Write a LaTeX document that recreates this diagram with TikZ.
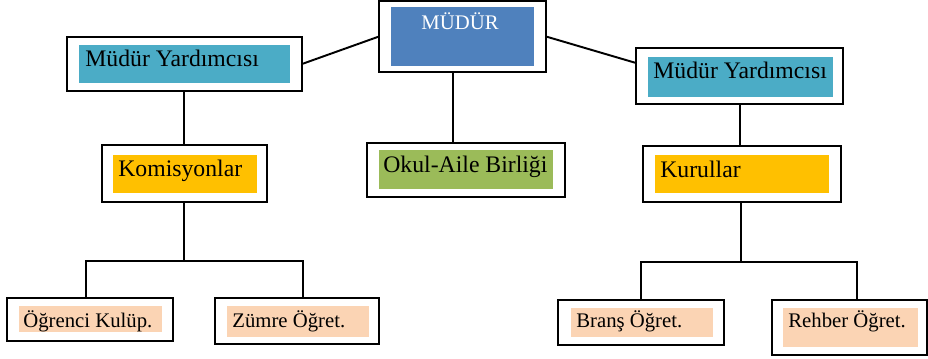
\documentclass[tikz,border=0pt]{standalone}
\usepackage{fontspec}
\setmainfont{Liberation Serif}
\usetikzlibrary{positioning}

\definecolor{mudurblue}{HTML}{4F81BD}
\definecolor{yardteal}{HTML}{4BACC6}
\definecolor{kurulgold}{HTML}{FFC000}
\definecolor{okulgreen}{HTML}{9BBB59}
\definecolor{ogretpeach}{HTML}{FBD4B4}

\begin{document}
\begin{tikzpicture}
[   x=0.02cm, y=-0.02cm,
    font = \fontsize{13.5}{16}\selectfont,
    box/.style={draw, line width=1.2pt, inner sep=0pt, outer sep=0pt},
    fillbox/.style={inner sep=0pt, outer sep=0pt},
    lbl/.style={anchor=base west, inner sep=0pt},
    smalllbl/.style={lbl, font=\fontsize{11.8}{14}\selectfont},
    link/.style={line width=1.1pt}
]
\useasboundingbox (0,0) rectangle (928,358);

% outer frames
\node[box, minimum width=3.34cm, minimum height=1.42cm] (mudur) at (462.5,36.5) {};
\node[box, minimum width=4.70cm, minimum height=1.08cm] (myL) at (184.5,64) {};
\node[box, minimum width=4.14cm, minimum height=1.12cm] (myR) at (739.5,76) {};
\node[box, minimum width=3.30cm, minimum height=1.14cm] (kom) at (184.5,173.5) {};
\node[box, minimum width=3.96cm, minimum height=1.08cm] (okul) at (466,170) {};
\node[box, minimum width=3.96cm, minimum height=1.12cm] (kur) at (742,174) {};
\node[box, minimum width=3.32cm, minimum height=0.86cm] (ogr) at (90,319.5) {};
\node[box, minimum width=3.28cm, minimum height=0.92cm] (zum) at (297,321) {};
\node[box, minimum width=3.32cm, minimum height=0.90cm] (bra) at (641,322.5) {};
\node[box, minimum width=3.10cm, minimum height=1.10cm] (reh) at (849.5,327.5) {};

% coloured fills
\node[fillbox, fill=mudurblue, minimum width=2.86cm, minimum height=1.18cm] (mudurf) at (462.5,36.5) {};
\node[fillbox, fill=yardteal, minimum width=4.22cm, minimum height=0.76cm] (myLf) at (184.5,64) {};
\node[fillbox, fill=yardteal, minimum width=3.70cm, minimum height=0.80cm] (myRf) at (740.5,77) {};
\node[fillbox, fill=kurulgold, minimum width=2.88cm, minimum height=0.76cm] (komf) at (185,174) {};
\node[fillbox, fill=okulgreen, minimum width=3.48cm, minimum height=0.78cm] (okulf) at (466,169.5) {};
\node[fillbox, fill=kurulgold, minimum width=3.48cm, minimum height=0.76cm] (kurf) at (742,174) {};
\node[fillbox, fill=ogretpeach, minimum width=2.86cm, minimum height=0.52cm] (ogrf) at (90.5,319) {};
\node[fillbox, fill=ogretpeach, minimum width=2.84cm, minimum height=0.62cm] (zumf) at (298,321.5) {};
\node[fillbox, fill=ogretpeach, minimum width=2.84cm, minimum height=0.58cm] (braf) at (642,322.5) {};
\node[fillbox, fill=ogretpeach, minimum width=2.70cm, minimum height=0.78cm] (rehf) at (850.5,327.5) {};

% labels
\node[smalllbl, anchor=base, text=white] (mudurt) at (460,30) {MÜDÜR};
\node[lbl] (myLt) at (85,67) {Müdür Yardımcısı};
\node[lbl] (myRt) at (653,78) {Müdür Yardımcısı};
\node[lbl] (komt) at (118,176) {Komisyonlar};
\node[lbl] (okult) at (383,172) {Okul-Aile Birliği};
\node[lbl] (kurt) at (660,177) {Kurullar};
\node[smalllbl] (ogrt) at (23,327) {Öğrenci Kulüp.};
\node[smalllbl] (zumt) at (232,327) {Zümre Öğret.};
\node[smalllbl] (brat) at (576,327) {Branş Öğret.};
\node[smalllbl] (reht) at (788,327) {Rehber Öğret.};

% connectors
\coordinate (komsplit) at (184,261);
\coordinate (kursplit) at (741,262);
\draw[link] (mudur.west) -- (myL.east);
\draw[link] (mudur.east) -- ([yshift=0.26cm]myR.west);
\draw[link] ([xshift=-0.19cm]mudur.south) -- ([xshift=-0.19cm]mudur.south |- okul.north);
\draw[link] ([xshift=-0.01cm]myL.south) -- ([xshift=-0.01cm]kom.north);
\draw[link] ([xshift=0.01cm]myR.south) -- ([xshift=0.01cm]myR.south |- kur.north);
\draw[link] (kom.south -| komsplit) -- (komsplit);
\draw[link] ([xshift=-0.08cm]ogr.north) |- (komsplit) -| ([xshift=0.12cm]zum.north);
\draw[link] (kur.south -| kursplit) -- (kursplit);
\draw[link] (bra.north) |- (kursplit) -| ([xshift=0.15cm]reh.north);
\end{tikzpicture}
\end{document}
